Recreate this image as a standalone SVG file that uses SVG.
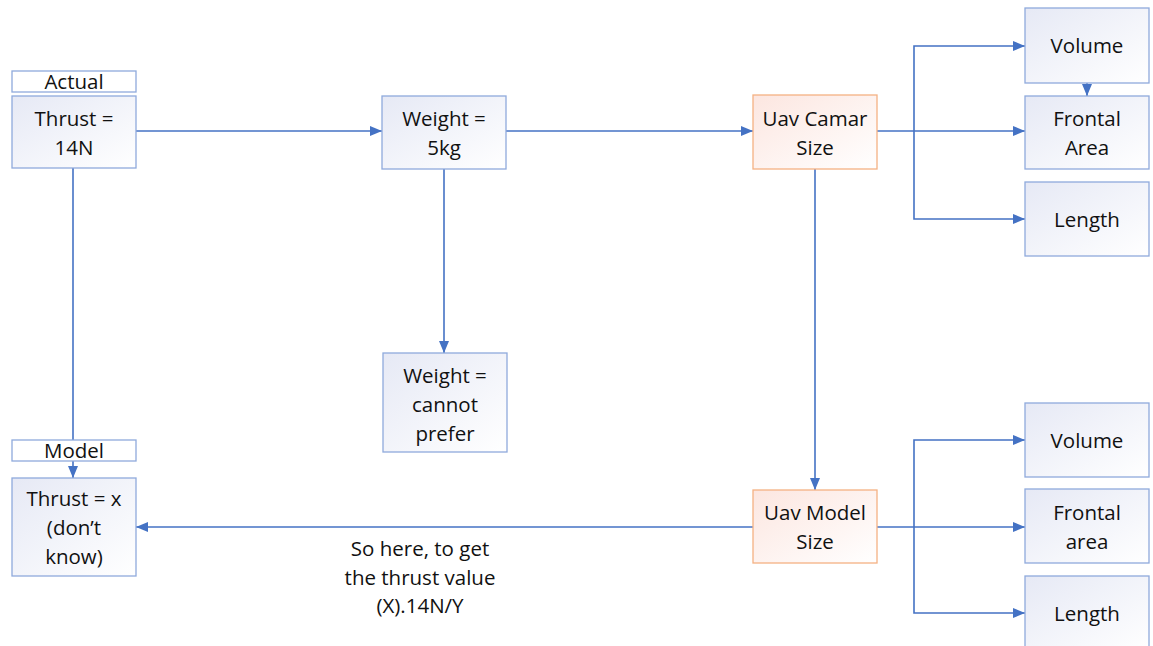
<svg xmlns="http://www.w3.org/2000/svg" width="1153" height="646" viewBox="0 0 1153 646">
<defs>
<linearGradient id="gb" x1="0" y1="0" x2="1" y2="1">
<stop offset="0" stop-color="#e6e9f5"/><stop offset="1" stop-color="#ffffff"/>
</linearGradient>
<linearGradient id="go" x1="0" y1="0" x2="1" y2="1">
<stop offset="0" stop-color="#fce6e0"/><stop offset="1" stop-color="#ffffff"/>
</linearGradient>
<marker id="ah" viewBox="0 0 12 10" refX="12" refY="5" markerWidth="12" markerHeight="10" markerUnits="userSpaceOnUse" orient="auto">
<path d="M0,0 L12,5 L0,10 z" fill="#4472c4"/>
</marker>
</defs>
<style>
.b{fill:url(#gb);stroke:#8faadc;stroke-width:1.3}
.o{fill:url(#go);stroke:#f4b183;stroke-width:1.3}
.l{fill:#ffffff;stroke:#8faadc;stroke-width:1.3}
text{font-family:"Open Sans","Liberation Sans",sans-serif;font-size:20.5px;fill:#111;text-anchor:middle}
.c path{fill:none;stroke:#4472c4;stroke-width:1.6}
</style>
<rect width="1153" height="646" fill="#ffffff"/>
<g class="c" id="connectors">
<path d="M73,168 V440" />
<path d="M73,461 V478" marker-end="url(#ah)"/>
<path d="M136,131 H382" marker-end="url(#ah)"/>
<path d="M506,131 H753" marker-end="url(#ah)"/>
<path d="M444,169 V353" marker-end="url(#ah)"/>
<path d="M815,169 V490" marker-end="url(#ah)"/>
<path d="M877,131 H1025" marker-end="url(#ah)"/>
<path d="M914,131 V46 H1025" marker-end="url(#ah)"/>
<path d="M914,131 V219 H1025" marker-end="url(#ah)"/>
<path d="M1087,83 V96" marker-end="url(#ah)"/>
<path d="M753,527 H136" marker-end="url(#ah)"/>
<path d="M877,527 H1025" marker-end="url(#ah)"/>
<path d="M914,527 V440 H1025" marker-end="url(#ah)"/>
<path d="M914,527 V613 H1025" marker-end="url(#ah)"/>
</g>
<g id="actual-label"><rect class="l" x="12" y="71" width="124" height="21"/><text x="74" y="89">Actual</text></g>
<g id="thrust-actual"><rect class="b" x="12" y="96" width="124" height="72"/><text x="74" y="126">Thrust =</text><text x="74" y="155">14N</text></g>
<g id="weight-5kg"><rect class="b" x="382" y="96" width="124" height="73"/><text x="444" y="126">Weight =</text><text x="444" y="155">5kg</text></g>
<g id="uav-camar"><rect class="o" x="753" y="95" width="124" height="74"/><text x="815" y="126">Uav Camar</text><text x="815" y="155">Size</text></g>
<g id="volume-top"><rect class="b" x="1025" y="8" width="124" height="75"/><text x="1087" y="53">Volume</text></g>
<g id="frontal-top"><rect class="b" x="1025" y="96" width="124" height="73"/><text x="1087" y="126">Frontal</text><text x="1087" y="155">Area</text></g>
<g id="length-top"><rect class="b" x="1025" y="182" width="124" height="74"/><text x="1087" y="227">Length</text></g>
<g id="weight-cannot"><rect class="b" x="383" y="353" width="124" height="99"/><text x="445" y="383">Weight =</text><text x="445" y="412">cannot</text><text x="445" y="441">prefer</text></g>
<g id="model-label"><rect class="l" x="12" y="440" width="124" height="21"/><text x="74" y="458">Model</text></g>
<g id="thrust-model"><rect class="b" x="12" y="478" width="124" height="98"/><text x="74" y="506">Thrust = x</text><text x="74" y="535">(don’t</text><text x="74" y="564">know)</text></g>
<g id="uav-model"><rect class="o" x="753" y="490" width="124" height="73"/><text x="815" y="520">Uav Model</text><text x="815" y="549">Size</text></g>
<g id="volume-bottom"><rect class="b" x="1025" y="403" width="124" height="74"/><text x="1087" y="448">Volume</text></g>
<g id="frontal-bottom"><rect class="b" x="1025" y="489" width="124" height="74"/><text x="1087" y="520">Frontal</text><text x="1087" y="549">area</text></g>
<g id="length-bottom"><rect class="b" x="1025" y="576" width="124" height="74"/><text x="1087" y="621">Length</text></g>
<g id="note"><text x="420" y="556">So here, to get</text><text x="420" y="585">the thrust value</text><text x="420" y="613">(X).14N/Y</text></g>
</svg>
